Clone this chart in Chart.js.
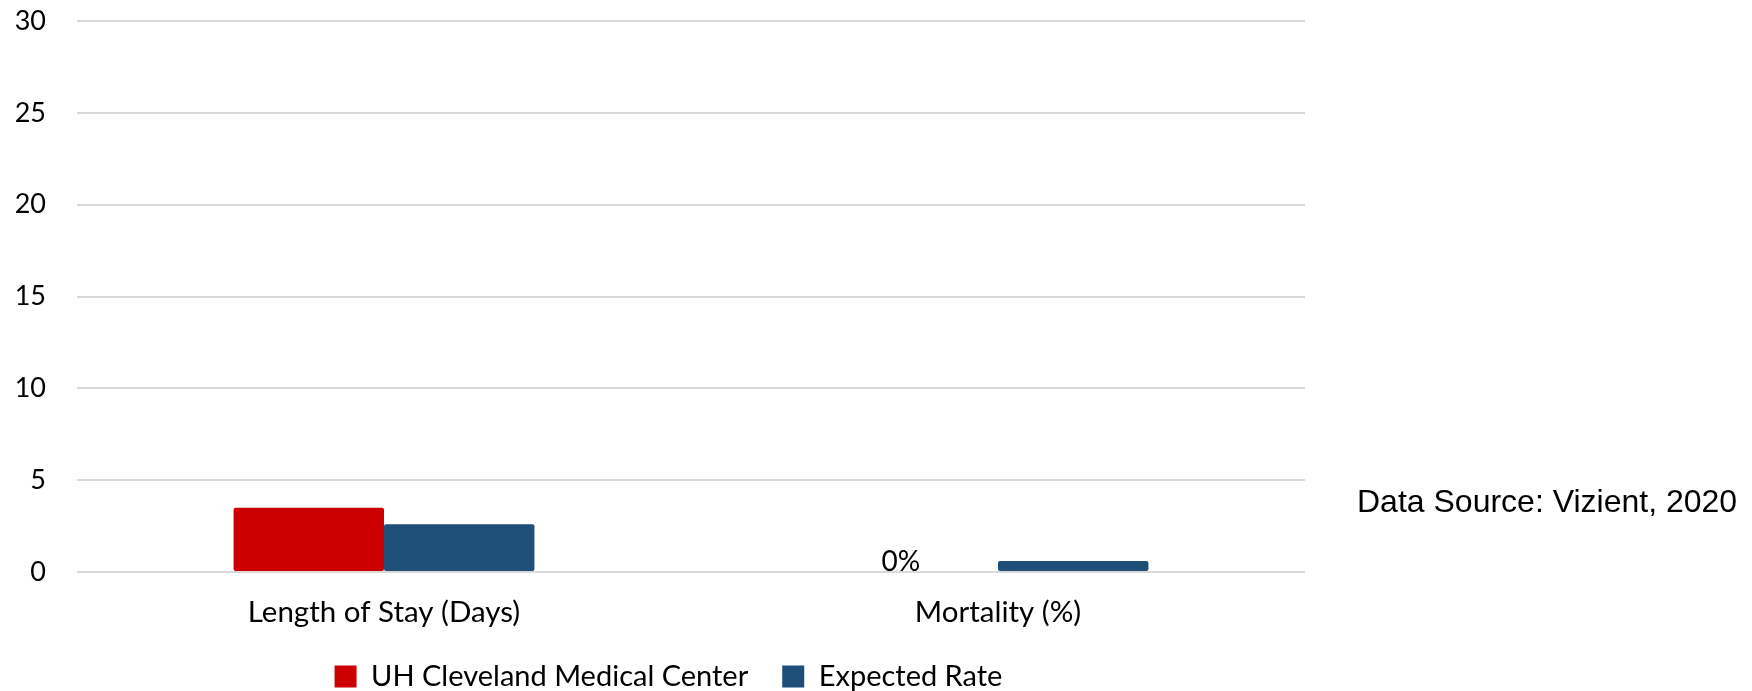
<!DOCTYPE html>
<html>
<head>
<meta charset="utf-8">
<script src="https://cdn.jsdelivr.net/npm/chart.js@4.4.0/dist/chart.umd.min.js"></script>
<style>
  html, body { margin: 0; padding: 0; background: #ffffff; }
  #wrap { position: relative; width: 1752px; height: 691px; }
  #source {
    position: absolute; left: 1357px; top: 483px;
    font-family: "Liberation Sans", Arial, sans-serif; font-size: 32px; color: #000;
    white-space: nowrap;
  }
</style>
</head>
<body>
<div id="wrap">
  <canvas id="c" width="1752" height="691"></canvas>
  <div id="source">Data Source: Vizient, 2020</div>
</div>
<script>
const categories = ["Length of Stay (Days)", "Mortality (%)"];
const uhValues = [3.5, 0];
const expectedValues = [2.6, 0.6];
const seriesNames = ["UH Cleveland Medical Center", "Expected Rate"];
const yTicks = [0, 5, 10, 15, 20, 25, 30];
const dataLabels = [[null, "0%"], [null, null]];

const RED = "#CC0000";
const BLUE = "#1F4E79";
const FONT = "Lato, 'Open Sans', sans-serif";

const labelPlugin = {
  id: "valueLabels",
  afterDatasetsDraw(chart) {
    const ctx = chart.ctx;
    ctx.save();
    ctx.font = "28px " + FONT;
    ctx.fillStyle = "#000";
    ctx.textAlign = "center";
    ctx.textBaseline = "alphabetic";
    dataLabels.forEach((arr, di) => {
      const meta = chart.getDatasetMeta(di);
      arr.forEach((txt, i) => {
        if (!txt) return;
        const el = meta.data[i];
        ctx.fillText(txt, el.x - 22, el.y - 1);
      });
    });
    ctx.restore();
  }
};

// nudge the legend block to the right, as in the reference
const legendShift = {
  id: "legendShift",
  afterLayout(chart) {
    const lg = chart.legend;
    if (lg) { lg.left += 16; lg.right += 16; }
  }
};

new Chart(document.getElementById("c"), {
  type: "bar",
  data: {
    labels: categories,
    datasets: [
      { label: seriesNames[0], data: uhValues, backgroundColor: RED, borderRadius: 2, borderSkipped: false },
      { label: seriesNames[1], data: expectedValues, backgroundColor: BLUE, borderRadius: 2, borderSkipped: false }
    ]
  },
  options: {
    responsive: false,
    animation: false,
    devicePixelRatio: 1,
    layout: { padding: { top: 21, right: 447, left: 0, bottom: -10 } },
    datasets: { bar: { categoryPercentage: 0.49, barPercentage: 1.0 } },
    scales: {
      x: {
        afterFit(scale) { scale.height = 56; },
        grid: { display: false },
        border: { display: false },
        ticks: { color: "#000", font: { family: FONT, size: 29.5 }, padding: 15 }
      },
      y: {
        min: 0, max: 30,
        afterBuildTicks(scale) { scale.ticks = yTicks.map(v => ({ value: v })); },
        afterFit(scale) { scale.width = 77; scale.paddingTop = 0; scale.paddingBottom = 0; },
        grid: { color: "#d9d9d9", lineWidth: 2, drawTicks: false },
        border: { display: false },
        ticks: { color: "#000", font: { family: FONT, size: 27 }, padding: 31 }
      }
    },
    plugins: {
      legend: {
        position: "bottom",
        fullSize: true,
        labels: {
          color: "#000",
          font: { family: FONT, size: 29 },
          boxWidth: 22, boxHeight: 22,
          padding: 34
        }
      },
      tooltip: { enabled: false }
    }
  },
  plugins: [labelPlugin, legendShift]
});
</script>
</body>
</html>
